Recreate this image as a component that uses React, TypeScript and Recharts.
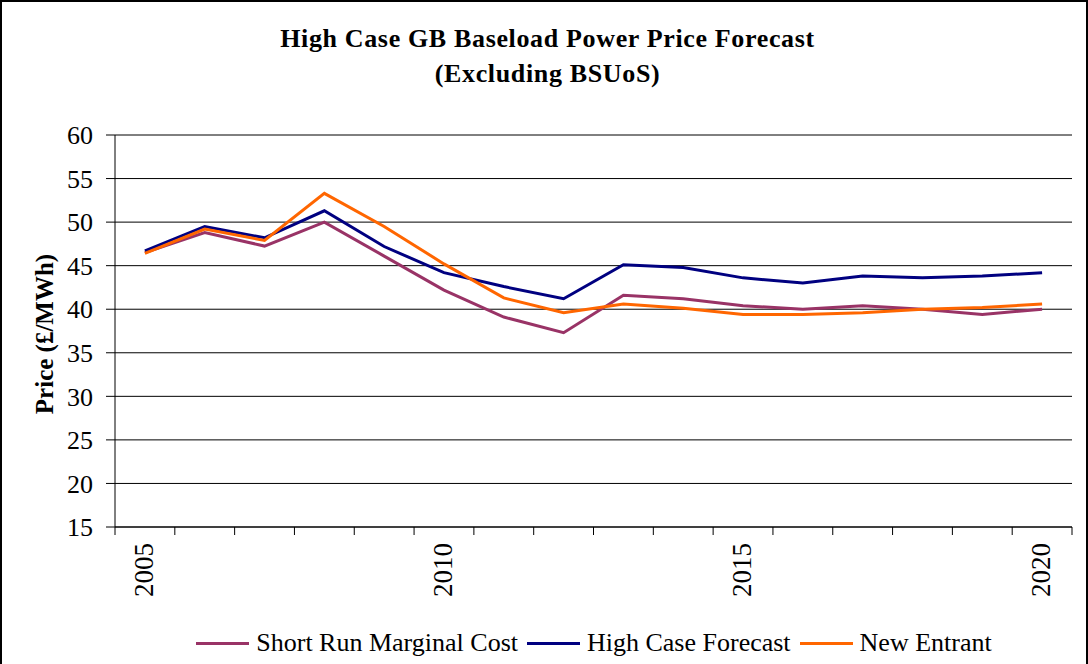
import React from 'react';
import { LineChart, Line, XAxis, YAxis, CartesianGrid, Legend } from 'recharts';

const years = [2005, 2006, 2007, 2008, 2009, 2010, 2011, 2012, 2013, 2014, 2015, 2016, 2017, 2018, 2019, 2020];
const shortRunMarginalCost = [46.5, 48.8, 47.25, 50.0, 46.1, 42.2, 39.1, 37.3, 41.6, 41.2, 40.4, 40.0, 40.4, 40.0, 39.4, 40.0];
const highCaseForecast = [46.7, 49.5, 48.2, 51.3, 47.2, 44.2, 42.6, 41.2, 45.1, 44.8, 43.6, 43.0, 43.8, 43.6, 43.8, 44.2];
const newEntrant = [46.4, 49.2, 47.9, 53.3, 49.5, 45.2, 41.3, 39.6, 40.6, 40.1, 39.4, 39.4, 39.6, 40.0, 40.2, 40.6];
const xTickLabels = [2005, 2010, 2015, 2020];
const yTicks = [15, 20, 25, 30, 35, 40, 45, 50, 55, 60];

const seriesInfo = [
  { key: 'srmc', name: 'Short Run Marginal Cost', color: '#993366' },
  { key: 'high', name: 'High Case Forecast', color: '#000080' },
  { key: 'ne', name: 'New Entrant', color: '#FF6600' },
];

const data = years.map((year, i) => ({
  year,
  srmc: shortRunMarginalCost[i],
  high: highCaseForecast[i],
  ne: newEntrant[i],
}));

const boundaries = [...years.map((y) => y - 0.5), years[years.length - 1] + 0.5];
const allXTicks = [...boundaries, ...xTickLabels].sort((a, b) => a - b);

const FONT = '"Liberation Serif", "Times New Roman", serif';

const XTick = (props: any) => {
  const { x, y, payload } = props;
  const v = payload.value;
  if (!Number.isInteger(v)) {
    return <line x1={x} x2={x} y1={y} y2={y + 8} stroke="#000" strokeWidth={1} />;
  }
  return (
    <text
      transform={`translate(${x + 8},${y + 16}) rotate(-90)`}
      textAnchor="end"
      fontSize={27}
      fontFamily={FONT}
      fill="#000"
    >
      {v}
    </text>
  );
};

const LegendContent = () => (
  <div
    style={{
      display: 'flex',
      justifyContent: 'center',
      alignItems: 'center',
      fontFamily: FONT,
      fontSize: 26,
      lineHeight: '30px',
      color: '#000',
    }}
  >
    {seriesInfo.map((s, i) => (
      <div key={s.key} style={{ display: 'flex', alignItems: 'center', marginRight: i < seriesInfo.length - 1 ? 9 : 0 }}>
        <div style={{ width: 53, height: 3, background: s.color, marginRight: 7 }} />
        <span style={{ whiteSpace: 'nowrap' }}>{s.name}</span>
      </div>
    ))}
  </div>
);

const YLabel = (props: any) => {
  const vb = props.viewBox || {};
  const cy = (vb.y || 0) + (vb.height || 0) / 2 + 3;
  return (
    <text
      transform={`translate(44,${cy}) rotate(-90)`}
      textAnchor="middle"
      dominantBaseline="central"
      fontSize={25}
      fontWeight="bold"
      fontFamily={FONT}
      fill="#000"
    >
      Price (£/MWh)
    </text>
  );
};

export default function App() {
  return (
    <div style={{ position: 'absolute', left: 0, top: 0, width: 1088, height: 664, background: '#fff', overflow: 'hidden' }}>
      <div
        style={{
          position: 'absolute',
          left: 0,
          top: 21,
          width: 1095,
          textAlign: 'center',
          fontFamily: FONT,
          fontWeight: 'bold',
          fontSize: 26,
          lineHeight: '35px',
          letterSpacing: 0.65,
          color: '#000',
        }}
      >
        <div>High Case GB Baseload Power Price Forecast</div>
        <div>(Excluding BSUoS)</div>
      </div>
      <div style={{ position: 'absolute', left: 0, top: 0 }}>
        <LineChart width={1088} height={664} data={data} margin={{ top: 135, right: 16, left: 0, bottom: 57 }}>
          <CartesianGrid vertical={false} stroke="#000" strokeWidth={1} yAxisId="left" />
          <XAxis
            dataKey="year"
            type="number"
            domain={[2004.5, 2020.5]}
            ticks={allXTicks}
            interval={0}
            tick={<XTick />}
            tickLine={false}
            tickSize={0}
            tickMargin={0}
            height={80}
            axisLine={{ stroke: '#000', strokeWidth: 1 }}
          />
          <YAxis
            yAxisId="left"
            domain={[15, 60]}
            ticks={yTicks}
            interval={0}
            width={115}
            tickSize={9}
            tickMargin={13}
            tickLine={{ stroke: '#000' }}
            axisLine={{ stroke: '#000', strokeWidth: 1 }}
            tick={{ fontSize: 26, fontFamily: FONT, fill: '#000' }}
            label={<YLabel />}
          />
          <YAxis
            yAxisId="right"
            orientation="right"
            domain={[15, 60]}
            width={0}
            tick={false}
            tickLine={false}
            axisLine={{ stroke: '#808080', strokeWidth: 2 }}
          />
          <Legend
            layout="horizontal"
            verticalAlign="middle"
            align="center"
            content={<LegendContent />}
            wrapperStyle={{ top: 628, left: 100, width: 988 }}
          />
          {seriesInfo.map((s) => (
            <Line
              key={s.key}
              yAxisId="left"
              type="linear"
              dataKey={s.key}
              name={s.name}
              stroke={s.color}
              strokeWidth={3}
              dot={false}
              activeDot={false}
              isAnimationActive={false}
            />
          ))}
        </LineChart>
      </div>
      <div
        style={{
          position: 'absolute',
          left: 0,
          top: 0,
          width: 1088,
          height: 664,
          boxSizing: 'border-box',
          borderTop: '2px solid #000',
          borderLeft: '2px solid #000',
          borderRight: '2px solid #000',
          pointerEvents: 'none',
        }}
      />
    </div>
  );
}
